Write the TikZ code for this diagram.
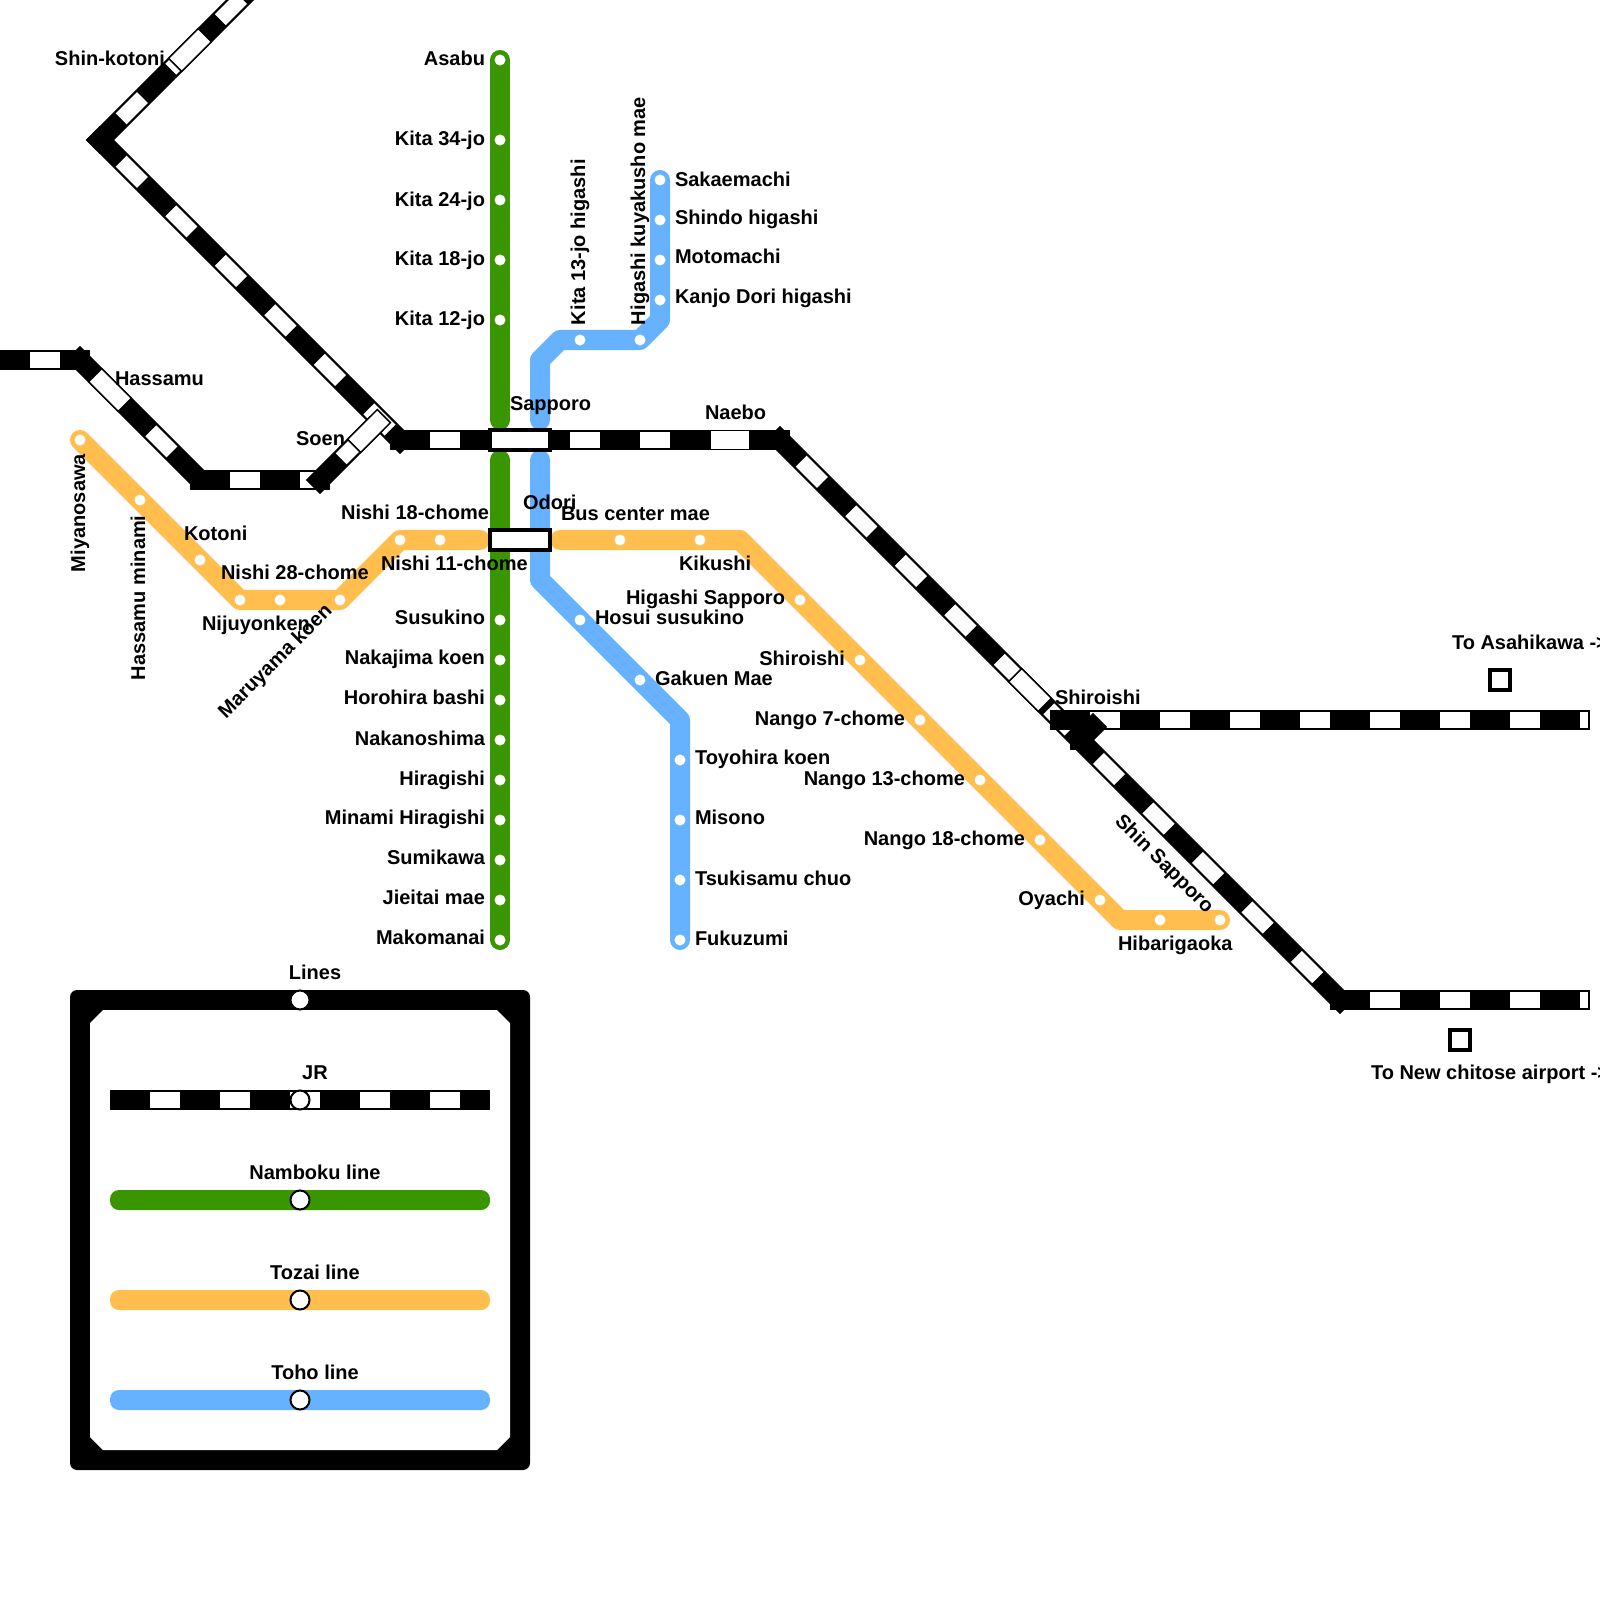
\documentclass[tikz,border=0pt]{standalone}
\usepackage{fontspec}
\setmainfont{Liberation Sans}
\usepackage{xcolor}
\definecolor{nambokugreen}{RGB}{58,150,0}
\definecolor{tozaiorange}{RGB}{255,190,77}
\definecolor{tohoblue}{RGB}{102,178,255}
\newcommand{\jrseg}[2][]{\draw[jrbase] #2; \draw[jrdash,#1] #2;}

\begin{document}
\begin{tikzpicture}[x=0.01cm,y=-0.01cm,
    every node/.style={font=\fontsize{5.69pt}{6.5pt}\selectfont\bfseries, inner sep=0pt, outer sep=0pt},
    jrbase/.style={draw=black, line width=0.2cm, line cap=rect},
    jrdash/.style={draw=white, line width=0.155cm, dash pattern=on 0.3cm off 0.4cm, dash phase=0.4cm},
    metro/.style={line width=0.2cm, line cap=round, line join=round},
    stop/.style={circle, fill=white, minimum size=0.11cm},
    legstop/.style={circle, draw=black, fill=white, line width=0.02cm, minimum size=0.19cm},
    halt/.style={draw=black, fill=white, line width=0.015cm, minimum width=0.4cm, minimum height=0.185cm},
    hub/.style={draw=black, fill=white, line width=0.04cm, minimum width=0.6cm, minimum height=0.2cm},
    away/.style={draw=black, fill=white, line width=0.04cm, minimum size=0.2cm}]

  \useasboundingbox (0,0) rectangle (1600,1600);

  % Stations
  \foreach \nm/\x/\y in {asabu/500/60,kitaA/500/140,kitaB/500/200,kitaC/500/260,kitaD/500/320,
      greenN/500/420,greenS/500/460,susukino/500/620,nakajima/500/660,horohira/500/700,
      nakanoshima/500/740,hiragishi/500/780,minami/500/820,sumikawa/500/860,jieitai/500/900,makomanai/500/940}
    \coordinate (\nm) at (\x,\y);
  \foreach \nm/\x/\y in {sakae/660/180,shindo/660/220,motomachi/660/260,kanjo/660/300,bendA/660/320,
      kuyakusho/640/340,kitajo/580/340,bendB/560/340,bendC/540/360,blueN/540/420,
      blueS/540/460,bendD/540/580,hosui/580/620,gakuen/640/680,bendE/680/720,
      toyohira/680/760,misono/680/820,tsukisamu/680/880,fukuzumi/680/940}
    \coordinate (\nm) at (\x,\y);
  \foreach \nm/\x/\y in {miyanosawa/80/440,hminami/140/500,kotoni/200/560,nijuyonken/240/600,
      nishiB/280/600,maruyama/340/600,nishiA/400/540,nishiC/440/540,tozaiW/480/540,
      tozaiE/560/540,buscenter/620/540,kikushi/700/540,bendF/740/540,hsapporo/800/600,
      oshiroishi/860/660,nangoA/920/720,nangoB/980/780,nangoC/1040/840,oyachi/1100/900,
      bendG/1120/920,hibari/1160/920,tozaiEnd/1220/920}
    \coordinate (\nm) at (\x,\y);
  \foreach \nm/\x/\y in {jrTop/260/-20,jrCorner/100/140,jrHub/400/440,jrTurn/780/440,jrSouth/1340/1000,
      jrSouthEnd/1580/1000,jrEastA/1060/720,jrEastB/1580/720,jrStub/1080/740,jrStubEnd/1100/720,
      jrWest/0/360,jrWestA/80/360,jrWestB/200/480,jrWestC/320/480,jrWestD/370/430}
    \coordinate (\nm) at (\x,\y);

  % Subway lines
  \draw[metro, nambokugreen] (asabu) -- (greenN);
  \draw[metro, nambokugreen] (greenS) -- (makomanai);
  \draw[metro, tohoblue] (sakae) -- (bendA) -- (kuyakusho) -- (bendB) -- (bendC) -- (blueN);
  \draw[metro, tohoblue] (blueS) -- (bendD) -- (bendE) -- (fukuzumi);
  \draw[metro, tozaiorange] (miyanosawa) -- (nijuyonken) -- (maruyama) -- (nishiA) -- (tozaiW);
  \draw[metro, tozaiorange] (tozaiE) -- (bendF) -- (bendG) -- (tozaiEnd);

  % JR lines
  \jrseg{(jrCorner) -- (jrTop)}
  \jrseg{(jrCorner) -- (jrHub)}
  \jrseg{(jrWest) -- (jrWestA)}
  \draw[jrbase, shorten >=0.1cm] (jrWestA) -- (jrWestB);
  \draw[jrdash] (jrWestA) -- (jrWestB);
  \jrseg{(jrWestB) -- (jrWestC)}
  \jrseg{(jrWestC) -- (jrWestD)}
  \jrseg{(jrHub) -- (jrTurn)}
  \jrseg{(jrTurn) -- (jrSouth)}
  \jrseg[shorten >=-0.075cm]{(jrSouth) -- (jrSouthEnd)}
  \jrseg[shorten >=-0.075cm]{(jrEastA) -- (jrEastB)}
  \draw[draw=black, line width=0.2cm] (jrStubEnd) -- (jrStub);
  \draw[jrbase, line cap=butt] (1070,740) -- (jrStub) -- (1090,740);

  % Station boxes
  \node[halt, rotate=45, minimum width=0.42cm] (shinkotoni) at (190,50) {};
  \node[halt, rotate=-45, minimum width=0.42cm] (hassamu) at (110,390) {};
  \node[halt, rotate=45, minimum width=0.42cm] (soen) at (369,431) {};
  \node[halt, rotate=-45, minimum width=0.42cm] (jrshiroishi) at (1030,690) {};
  \node[halt] (naebo) at (730,440) {};
  \node[hub] (sapporo) at (520,440) {};
  \node[hub] (odori) at (520,540) {};
  \node[away] (asahikawa) at (1500,680) {};
  \node[away] (chitose) at (1460,1040) {};

  % Stops
  \foreach \stn in {asabu,kitaA,kitaB,kitaC,kitaD,susukino,nakajima,horohira,nakanoshima,hiragishi,
      minami,sumikawa,jieitai,makomanai,sakae,shindo,motomachi,kanjo,kuyakusho,kitajo,hosui,gakuen,
      toyohira,misono,tsukisamu,fukuzumi,miyanosawa,hminami,kotoni,nijuyonken,nishiB,maruyama,nishiA,
      nishiC,buscenter,kikushi,hsapporo,oshiroishi,nangoA,nangoB,nangoC,oyachi,hibari,tozaiEnd}
    \node[stop] (dot-\stn) at (\stn) {};

  % Labels to the left of a stop
  \foreach \nm/\txt/\x/\y in {a/Asabu/485/66,b/Kita 34-jo/485/146,c/Kita 24-jo/485/206,d/Kita 18-jo/485/265,
      e/Kita 12-jo/485/325,f/Susukino/485/624,g/Nakajima koen/485/664,h/Horohira bashi/485/704,
      i/Nakanoshima/485/745,j/Hiragishi/485/785,k/Minami Hiragishi/485/824,l/Sumikawa/485/864,
      m/Jieitai mae/485/904,n/Makomanai/485/944,o/Shin-kotoni/165/66,p/Soen/345/445,
      q/Nishi 18-chome/489/519,r/Higashi Sapporo/785/604,s/Shiroishi/845/665,t/Nango 7-chome/905/725,
      u/Nango 13-chome/965/785,v/Nango 18-chome/1025/845,w/Oyachi/1085/905}
    \node[anchor=base east] (lbl-\nm) at (\x,\y) {\txt};

  % Labels to the right of a stop
  \foreach \nm/\txt/\x/\y in {a/Sakaemachi/675/186,b/Shindo higashi/675/225,c/Motomachi/675/264,
      d/Kanjo Dori higashi/675/304,e/Hosui susukino/595/624,f/Gakuen Mae/655/685,g/Toyohira koen/695/764,
      h/Misono/695/824,i/Tsukisamu chuo/695/885,j/Fukuzumi/695/945,k/Hassamu/115/385,l/Sapporo/510/410,
      m/Naebo/705/419,n/Odori/523/509,o/Bus center mae/561/520,p/Nishi 11-chome/381/570,q/Kikushi/679/570,
      r/Kotoni/184/540,s/Nishi 28-chome/221/579,t/Nijuyonken/202/630,u/Hibarigaoka/1118/950,
      v/Shiroishi/1055/704,w/To Asahikawa ->/1452/649,x/To New chitose airport ->/1371/1079}
    \node[anchor=base west] (lblr-\nm) at (\x,\y) {\txt};

  % Turned labels
  \node[anchor=base west, rotate=90] (lbl-miyanosawa) at (85,572) {Miyanosawa};
  \node[anchor=base west, rotate=90] (lbl-hminami) at (145,680) {Hassamu minami};
  \node[anchor=base west, rotate=90] (lbl-kitajo) at (585,325) {Kita 13-jo higashi};
  \node[anchor=base west, rotate=90] (lbl-kuyakusho) at (645,325) {Higashi kuyakusho mae};
  \node[anchor=base west, rotate=45] (lbl-maruyama) at (226,719) {Maruyama koen};
  \node[anchor=base west, rotate=-45] (lbl-shinsapporo) at (1114,822) {Shin Sapporo};

  % Legend
  \fill[black, rounded corners=0.07cm] (70,990) rectangle (530,1470);
  \fill[white] (90,1023) -- (103,1010) -- (497,1010) -- (510,1023) -- (510,1437) -- (497,1450) -- (103,1450) -- (90,1437) -- cycle;
  \coordinate (legA) at (110,1100);
  \coordinate (legB) at (490,1100);
  \draw[jrbase, line cap=butt] (legA) -- (legB);
  \draw[jrdash, dash phase=0.3cm] (legA) -- (legB);
  \fill[nambokugreen, rounded corners=0.09cm] (110,1190) rectangle (490,1210);
  \fill[tozaiorange, rounded corners=0.09cm] (110,1290) rectangle (490,1310);
  \fill[tohoblue, rounded corners=0.09cm] (110,1390) rectangle (490,1410);
  \foreach \nm/\txt/\y in {lines/Lines/1000,jr/JR/1100,namboku/Namboku line/1200,tozai/Tozai line/1300,toho/Toho line/1400} {
    \node[legstop] (leg-\nm) at (300,\y) {};
    \node[anchor=base] (legtxt-\nm) at (315,\y-21) {\txt};
  }

\end{tikzpicture}
\end{document}
